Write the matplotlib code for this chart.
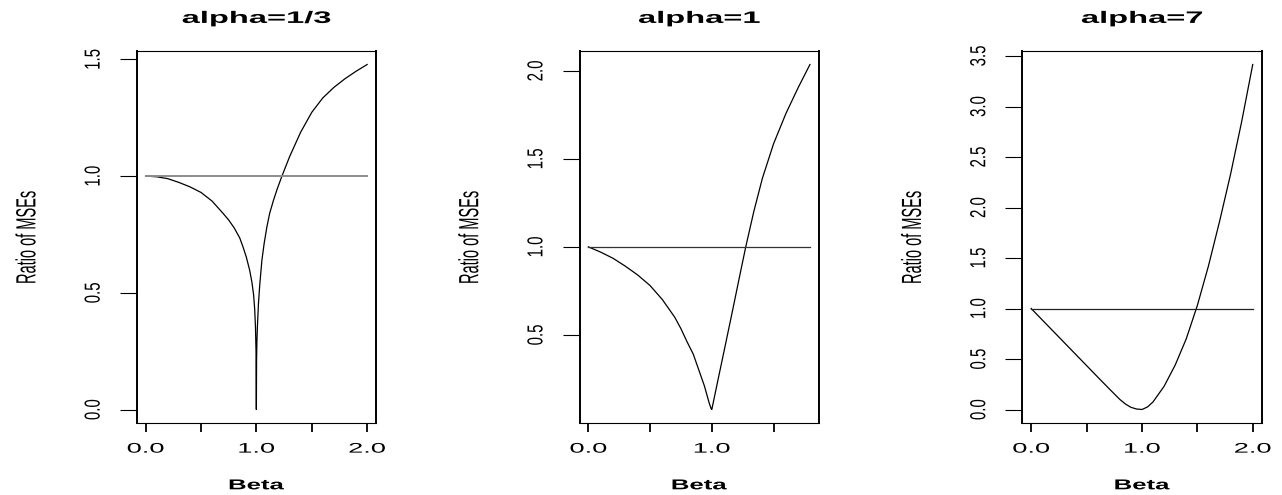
import matplotlib
matplotlib.use("Agg")
import matplotlib.pyplot as plt
from matplotlib import patheffects
from matplotlib.transforms import Affine2D

plt.rcParams['font.family'] = ['Liberation Sans', 'DejaVu Sans']

# values
titles = ["alpha=1/3", "alpha=1", "alpha=7"]

beta1 = [0, 0.1, 0.2, 0.3, 0.4, 0.5, 0.6, 0.7, 0.75, 0.8, 0.85, 0.88, 0.91, 0.94, 0.96, 0.975,
         0.985, 0.992, 0.997, 1.0,
         1.002, 1.005, 1.01, 1.019, 1.03, 1.05, 1.07, 1.095, 1.12, 1.155, 1.19, 1.231, 1.3, 1.4,
         1.5, 1.6, 1.7, 1.8, 1.9, 2.0]
ratio1 = [1.0, 0.997, 0.989, 0.973, 0.954, 0.930, 0.893, 0.840, 0.812, 0.778, 0.735, 0.696,
          0.652, 0.596, 0.545, 0.492, 0.43, 0.353, 0.25, 0.0,
          0.21, 0.29, 0.36, 0.453, 0.53, 0.639, 0.71, 0.782, 0.84, 0.897, 0.947, 1.0, 1.083,
          1.188, 1.273, 1.335, 1.38, 1.417, 1.449, 1.478]

beta2 = [0, 0.1, 0.2, 0.3, 0.4, 0.5, 0.6, 0.7, 0.75, 0.8, 0.85, 0.88, 0.94, 0.98, 0.995, 1.0,
         1.02, 1.05, 1.1, 1.166, 1.22, 1.275, 1.34, 1.41, 1.5, 1.6, 1.7, 1.795]
ratio2 = [1.0, 0.97, 0.935, 0.89, 0.84, 0.78, 0.70, 0.60, 0.535, 0.46, 0.39, 0.33, 0.21, 0.11,
          0.08, 0.076,
          0.143, 0.244, 0.41, 0.631, 0.815, 1.0, 1.2, 1.39, 1.585, 1.757, 1.905, 2.036]

beta3 = [0, 0.1, 0.2, 0.3, 0.4, 0.5, 0.6, 0.7, 0.8, 0.85, 0.9, 0.95, 1.0, 1.05, 1.1, 1.2, 1.3,
         1.4, 1.5, 1.6, 1.7, 1.8, 1.9, 2.0]
ratio3 = [1.0, 0.887, 0.774, 0.661, 0.548, 0.435, 0.322, 0.21, 0.10, 0.055, 0.022, 0.005, 0.0,
          0.025, 0.075, 0.23, 0.44, 0.70, 1.03, 1.42, 1.86, 2.33, 2.85, 3.416]

xticks = [[0, 0.5, 1.0, 1.5, 2.0], [0, 0.5, 1.0, 1.5], [0, 0.5, 1.0, 1.5, 2.0]]
xticklabels = [["0.0", "", "1.0", "", "2.0"], ["0.0", "", "1.0", ""], ["0.0", "", "1.0", "", "2.0"]]
yticks = [[0.0, 0.5, 1.0, 1.5], [0.5, 1.0, 1.5, 2.0], [0.0, 0.5, 1.0, 1.5, 2.0, 2.5, 3.0, 3.5]]

betas = [beta1, beta2, beta3]
ratios = [ratio1, ratio2, ratio3]
ref_colors = ["#8c8c8c", "#333333", "#222222"]
ref_widths = [1.4, 0.9, 0.9]


class HStretch(patheffects.AbstractPathEffect):
    # widen text horizontally around its centre, like the stretched R device output
    def __init__(self, sx):
        super().__init__()
        self.sx = sx

    def draw_path(self, renderer, gc, tpath, affine, rgbFace=None):
        ext = tpath.get_extents(affine)
        cx = (ext.x0 + ext.x1) / 2
        aff = affine + Affine2D().translate(-cx, 0).scale(self.sx, 1).translate(cx, 0)
        renderer.draw_path(gc, tpath, aff, rgbFace)


W, H = 1282, 495
fig = plt.figure(figsize=(W / 100, H / 100), dpi=100)

for i in range(3):
    left = 136.7 + 442.8 * i
    ax = fig.add_axes([left / W, 71.7 / H, 239.3 / W, 372.6 / H])
    ax.plot(betas[i], ratios[i], color="black", lw=0.9)
    ax.plot([0, max(betas[i])], [1, 1], color=ref_colors[i], lw=ref_widths[i])
    ax.margins(x=0.04, y=0.04)

    for side in ["left", "right"]:
        ax.spines[side].set_linewidth(1.4)
    for side in ["top", "bottom"]:
        ax.spines[side].set_linewidth(0.8)

    ax.set_xticks(xticks[i])
    ax.set_xticklabels(xticklabels[i])
    ax.set_yticks(yticks[i])
    ax.set_yticklabels(["%.1f" % v for v in yticks[i]])
    ax.tick_params(axis="x", direction="out", length=6.5, width=1.3, pad=6.7, labelsize=10)
    ax.tick_params(axis="y", direction="out", length=12.2, width=0.8, pad=14, labelsize=10.8,
                   labelrotation=90)
    for lab in ax.get_xticklabels():
        lab.set_path_effects([HStretch(1.96)])
    for lab in ax.get_yticklabels():
        lab.set_va("center")
        lab.set_path_effects([HStretch(1.45)])

    t = ax.set_title(titles[i], fontsize=12, fontweight="bold", pad=20)
    t.set_path_effects([HStretch(1.96)])

    xl = ax.set_xlabel("Beta", fontsize=10.3, fontweight="bold", va="baseline")
    ax.xaxis.set_label_coords(0.5, -66 / 372.6)
    xl.set_path_effects([HStretch(1.8)])

    yl = ax.set_ylabel("Ratio of MSEs", fontsize=10.5, va="center")
    ax.yaxis.set_label_coords(-110 / 239.3, 0.5)
    yl.set_path_effects([HStretch(1.9)])

fig.savefig("out.png", dpi=100)
